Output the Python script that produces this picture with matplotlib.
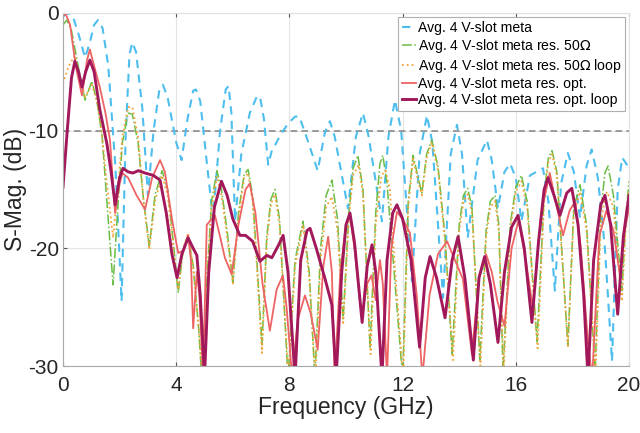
import matplotlib
matplotlib.use('Agg')
import matplotlib.pyplot as plt
import numpy as np

plt.rcParams['font.family'] = ['Liberation Sans', 'DejaVu Sans']
plt.rcParams['axes.unicode_minus'] = False

# Avg. 4 V-slot meta
f_meta = [0.0, 0.15, 0.35, 0.55, 0.78, 0.95, 1.1, 1.24, 1.4, 1.6, 1.85, 2.07, 2.22, 2.35, 2.45, 2.58, 2.8, 3.0,
          3.2, 3.4, 3.53, 3.7, 4.0, 4.19, 4.4, 4.6, 4.7, 4.85, 5.05, 5.3, 5.55, 5.75, 5.85, 5.95, 6.08, 6.3, 6.6,
          6.85, 6.96, 7.1, 7.25, 7.4, 7.5, 7.7, 7.95, 8.2, 8.35, 8.6, 9.0, 9.25, 9.43, 9.6, 10.07, 10.35, 10.6,
          10.8, 11.27, 11.5, 11.73, 11.95, 12.33, 12.6, 12.86, 13.05, 13.43, 13.7, 13.92, 14.1, 14.3, 14.65, 14.98,
          15.15, 15.37, 15.6, 15.8, 16.0, 16.2, 16.5, 16.96, 17.15, 17.38, 17.6, 17.84, 18.05, 18.27, 18.5, 18.68,
          18.9, 19.15, 19.4, 19.6, 19.76, 19.9, 20.0]
s_meta = [-0.3, 0.0, -0.3, -1.8, -3.8, -2.5, -1.0, -0.6, -1.3, -4.5, -13.0, -24.5, -10.0, -3.5, -2.5, -3.3, -8.0,
          -15.5, -10.0, -6.6, -6.1, -7.2, -11.0, -12.5, -9.0, -6.6, -6.5, -7.5, -12.0, -17.5, -10.0, -6.5, -6.2,
          -8.5, -17.7, -12.0, -8.5, -7.1, -7.1, -9.0, -12.9, -11.5, -11.2, -10.3, -9.4, -8.8, -8.8, -10.5, -13.4,
          -10.2, -9.2, -10.5, -16.6, -10.5, -8.5, -10.5, -17.7, -10.5, -7.4, -10.0, -22.8, -12.0, -8.7, -11.0,
          -24.2, -12.0, -9.5, -12.0, -19.1, -12.5, -10.8, -12.5, -16.6, -13.5, -12.8, -14.0, -17.7, -13.8, -13.2,
          -16.0, -23.6, -14.5, -11.9, -13.5, -17.4, -13.0, -11.6, -14.0, -20.0, -29.6, -15.0, -12.3, -12.8, -13.2]

# Avg. 4 V-slot meta res. 50 Ohm
f_50 = [0.0, 0.14, 0.3, 0.6, 0.78, 1.02, 1.2, 1.38, 1.55, 1.77, 1.95, 2.1, 2.3, 2.45, 2.65, 2.85, 3.05, 3.25, 3.5,
        3.7, 3.9, 4.07, 4.25, 4.42, 4.6, 4.8, 4.9, 5.05, 5.25, 5.44, 5.6, 5.8, 6.0, 6.2, 6.4, 6.54, 6.7, 6.85, 7.03,
        7.2, 7.35, 7.49, 7.65, 7.95, 8.2, 8.48, 8.7, 8.9, 9.1, 9.3, 9.5, 9.7, 9.9, 10.1, 10.25, 10.42, 10.6, 10.85,
        11.05, 11.2, 11.3, 11.45, 11.7, 12.0, 12.2, 12.37, 12.55, 12.68, 12.85, 13.03, 13.25, 13.5, 13.75, 14.0,
        14.15, 14.3, 14.45, 14.73, 14.95, 15.1, 15.27, 15.4, 15.55, 15.8, 16.0, 16.2, 16.4, 16.75, 17.0, 17.15,
        17.28, 17.45, 17.84, 18.05, 18.27, 18.5, 18.8, 19.0, 19.15, 19.26, 19.45, 19.75, 19.9, 20.0]
s_50 = [-1.0, -0.6, -1.5, -5.3, -7.4, -5.8, -7.5, -10.4, -16.0, -23.1, -16.0, -11.0, -8.5, -8.6, -11.0, -16.0,
        -19.8, -15.5, -13.4, -15.0, -19.5, -23.8, -20.0, -18.9, -21.5, -27.0, -31.0, -24.0, -16.0, -13.4, -15.0,
        -18.5, -22.9, -17.0, -13.7, -13.3, -15.5, -21.0, -28.2, -19.0, -15.8, -15.0, -17.5, -31.0, -21.0, -17.7,
        -22.0, -31.0, -20.0, -15.5, -14.2, -17.5, -26.0, -17.0, -13.2, -12.1, -15.0, -28.5, -17.0, -12.8, -12.1,
        -14.5, -22.0, -31.0, -16.0, -12.1, -14.0, -15.3, -12.0, -10.8, -13.0, -19.0, -29.0, -18.0, -15.5, -14.9,
        -16.5, -29.5, -18.5, -16.0, -15.5, -18.0, -30.5, -18.0, -14.8, -13.8, -16.0, -27.9, -15.5, -12.3, -11.7,
        -13.5, -28.3, -16.5, -14.6, -18.0, -30.5, -17.0, -13.6, -13.0, -15.5, -23.6, -17.0, -14.3]

# Avg. 4 V-slot meta res. 50 Ohm loop
f_50_loop = [0.0, 0.2, 0.42, 0.6, 0.78, 1.02, 1.2, 1.38, 1.55, 1.77, 1.95, 2.1, 2.3, 2.45, 2.65, 2.85, 3.05, 3.25,
             3.5, 3.7, 3.9, 4.07, 4.25, 4.42, 4.6, 4.8, 4.92, 5.05, 5.25, 5.44, 5.6, 5.8, 6.0, 6.2, 6.4, 6.54, 6.7,
             6.85, 7.03, 7.2, 7.35, 7.49, 7.65, 7.97, 8.2, 8.48, 8.7, 8.92, 9.1, 9.3, 9.5, 9.7, 9.9, 10.1, 10.25,
             10.45, 10.6, 10.87, 11.05, 11.25, 11.4, 11.55, 11.75, 12.02, 12.2, 12.37, 12.55, 12.68, 12.85, 13.03,
             13.25, 13.5, 13.78, 14.0, 14.15, 14.3, 14.45, 14.75, 14.95, 15.1, 15.27, 15.4, 15.57, 15.8, 16.0, 16.2,
             16.4, 16.77, 17.0, 17.15, 17.28, 17.45, 17.84, 18.05, 18.27, 18.5, 18.82, 19.0, 19.15, 19.22, 19.45,
             19.75, 19.9, 20.0]
s_50_loop = [-6.0, -4.5, -3.6, -5.5, -7.1, -6.1, -7.5, -10.4, -14.5, -19.1, -14.5, -10.5, -8.0, -8.0, -10.5, -16.0,
             -20.1, -16.0, -13.8, -15.5, -20.0, -23.5, -20.0, -18.7, -21.5, -27.0, -31.0, -24.5, -16.5, -13.9,
             -15.5, -19.0, -23.0, -17.5, -14.0, -13.6, -16.0, -21.5, -28.9, -19.5, -16.2, -15.4, -18.0, -31.0,
             -21.5, -18.0, -22.5, -31.0, -21.0, -16.5, -15.6, -18.5, -26.5, -17.5, -13.8, -12.9, -15.5, -29.0,
             -18.0, -13.8, -13.4, -15.0, -22.5, -31.0, -16.5, -12.4, -14.3, -15.5, -12.3, -11.0, -13.3, -19.5,
             -29.5, -18.5, -16.0, -15.4, -17.0, -30.0, -19.0, -16.5, -16.0, -18.5, -30.5, -18.5, -15.2, -14.3,
             -16.5, -28.5, -16.0, -12.7, -12.0, -13.8, -28.3, -17.0, -15.2, -18.5, -30.5, -18.0, -15.6, -15.2,
             -16.5, -24.5, -17.5, -15.0]

# Avg. 4 V-slot meta res. opt.
f_opt = [0.0, 0.1, 0.25, 0.45, 0.67, 0.85, 0.95, 1.1, 1.3, 1.5, 1.66, 1.84, 2.0, 2.1, 2.3, 2.6, 2.9, 3.15, 3.43,
         3.6, 3.85, 4.07, 4.25, 4.42, 4.52, 4.6, 4.73, 4.82, 4.95, 5.08, 5.37, 5.55, 5.72, 5.96, 6.2, 6.45, 6.6,
         6.8, 7.05, 7.31, 7.55, 7.77, 7.9, 8.1, 8.3, 8.55, 8.75, 9.0, 9.2, 9.37, 9.5, 9.6, 9.8, 10.0, 10.14, 10.3,
         10.55, 10.75, 10.9, 11.05, 11.2, 11.3, 11.45, 11.6, 11.8, 12.0, 12.26, 12.5, 12.7, 12.95, 13.25, 13.57,
         13.85, 14.13, 14.3, 14.45, 14.7, 14.95, 15.15, 15.35, 15.6, 15.85, 16.1, 16.35, 16.6, 16.9, 17.2, 17.45,
         17.67, 17.9, 18.1, 18.3, 18.55, 18.7, 18.95, 19.2, 19.45, 19.68, 19.85, 20.0]
s_opt = [-0.2, -0.1, -1.0, -4.5, -7.0, -4.0, -3.1, -4.5, -6.3, -8.5, -10.8, -17.0, -14.5, -13.6, -14.0, -15.5,
         -16.7, -14.0, -12.5, -13.5, -17.5, -20.4, -20.2, -18.9, -21.0, -26.8, -22.0, -24.0, -31.0, -18.0, -17.2,
         -19.0, -20.8, -22.2, -18.0, -15.0, -14.5, -17.0, -23.0, -27.0, -23.5, -22.3, -25.0, -31.0, -26.0, -24.0,
         -25.5, -28.6, -21.5, -19.0, -22.0, -31.0, -22.0, -18.0, -17.2, -20.0, -25.8, -23.0, -22.3, -24.4, -21.0,
         -23.0, -31.0, -20.0, -16.9, -17.5, -18.7, -24.0, -31.0, -24.0, -20.5, -19.4, -21.0, -22.6, -26.0, -29.0,
         -22.5, -20.5, -22.0, -24.5, -26.6, -20.0, -17.6, -21.0, -25.0, -17.0, -13.6, -16.5, -18.9, -16.8, -16.0,
         -20.0, -28.0, -31.0, -19.0, -16.8, -18.5, -22.3, -18.5, -16.6]

# Avg. 4 V-slot meta res. opt. loop
f_opt_loop = [0.0, 0.15, 0.3, 0.42, 0.55, 0.67, 0.8, 0.95, 1.1, 1.3, 1.55, 1.7, 1.84, 2.0, 2.12, 2.3, 2.47, 2.66,
              2.9, 3.19, 3.43, 3.65, 3.85, 4.03, 4.2, 4.42, 4.6, 4.73, 4.85, 5.0, 5.15, 5.35, 5.6, 5.8, 6.0, 6.25,
              6.45, 6.7, 6.96, 7.2, 7.38, 7.6, 7.78, 7.95, 8.2, 8.4, 8.62, 8.73, 8.95, 9.26, 9.5, 9.65, 9.85, 10.0,
              10.14, 10.3, 10.57, 10.75, 10.92, 11.05, 11.27, 11.45, 11.65, 11.8, 12.0, 12.3, 12.6, 12.8, 12.97,
              13.2, 13.5, 13.75, 13.96, 14.2, 14.5, 14.7, 14.9, 15.1, 15.37, 15.6, 15.85, 16.08, 16.3, 16.57, 16.8,
              17.0, 17.14, 17.35, 17.56, 17.8, 17.98, 18.2, 18.4, 18.55, 18.75, 19.0, 19.15, 19.35, 19.6, 19.8, 20.0]
s_opt_loop = [-14.8, -10.0, -5.5, -4.1, -5.0, -6.3, -5.0, -4.0, -5.0, -8.2, -11.1, -13.5, -16.3, -14.0, -13.2,
              -13.5, -13.6, -13.4, -13.6, -13.8, -14.2, -17.0, -20.5, -22.5, -20.5, -19.1, -20.0, -20.6, -24.0,
              -31.0, -22.0, -16.5, -14.3, -15.5, -17.5, -18.9, -18.9, -19.4, -21.1, -20.6, -20.8, -19.8, -18.9,
              -22.0, -31.0, -21.0, -18.5, -18.3, -20.0, -22.6, -24.8, -31.0, -22.0, -18.0, -17.0, -19.5, -26.3,
              -21.5, -19.7, -22.0, -31.0, -21.0, -17.0, -16.3, -17.5, -21.0, -28.4, -22.5, -20.7, -22.5, -25.9,
              -21.0, -19.0, -22.5, -29.5, -22.5, -20.7, -23.0, -28.0, -22.0, -18.2, -17.2, -20.0, -26.3, -19.5,
              -15.0, -14.0, -15.5, -17.2, -15.3, -14.9, -18.0, -24.0, -31.0, -21.0, -16.3, -15.5, -18.0, -25.6,
              -19.0, -15.5]

labels = ['Avg. 4 V-slot meta', 'Avg. 4 V-slot meta res. 50$\\Omega$', 'Avg. 4 V-slot meta res. 50$\\Omega$ loop',
          'Avg. 4 V-slot meta res. opt.', 'Avg. 4 V-slot meta res. opt. loop']

fig = plt.figure(figsize=(6.4, 4.33), dpi=100)
ax = fig.add_axes([63 / 640, 1 - 366 / 433, 566 / 640, 353 / 433])

ax.axhline(-10, color='#8c8c8c', lw=1.2, ls=(0, (4, 2.5)), zorder=1)
ax.plot(f_meta, s_meta, color='#4DBEEE', lw=1.5, ls=(0, (4, 3)), label=labels[0])
ax.plot(f_50, s_50, color='#6ABD45', lw=1.1, ls='-.', label=labels[1])
ax.plot(f_50_loop, s_50_loop, color='#F2A33A', lw=1.3, ls=':', label=labels[2])
ax.plot(f_opt, s_opt, color='#EE6363', lw=1.3, label=labels[3])
ax.plot(f_opt_loop, s_opt_loop, color='#A2195B', lw=2.1, label=labels[4])

ax.set_xlim(0, 20)
ax.set_ylim(-30, 0)
ax.set_xticks([0, 4, 8, 12, 16, 20])
ax.set_yticks([-30, -20, -10, 0])
ax.grid(True, color='#e4e4e4', lw=0.8)
ax.set_axisbelow(True)
for side in ['left', 'bottom']:
    ax.spines[side].set_color('#a8a8a8')
for side in ['top', 'right']:
    ax.spines[side].set_color('#e0e0e0')
ax.tick_params(direction='in', length=3, width=0.8, color='#555555', top=True, right=False,
               labelsize=15, labelcolor='#262626')
ax.tick_params(axis='x', pad=7)
ax.tick_params(axis='y', pad=3)
ax.set_xlabel('Frequency (GHz)', fontsize=16.5, color='#262626', labelpad=1)
ax.set_ylabel('S-Mag. (dB)', fontsize=16.5, color='#262626', labelpad=1)

leg = ax.legend(loc='upper right', fontsize=10.1, handlelength=1.0, handletextpad=0.1, labelspacing=0.14,
                borderpad=0.3, borderaxespad=0.25, fancybox=False, framealpha=1, edgecolor='#b0b0b0')
leg.get_frame().set_linewidth(0.8)

fig.savefig('out.png', dpi=100)
